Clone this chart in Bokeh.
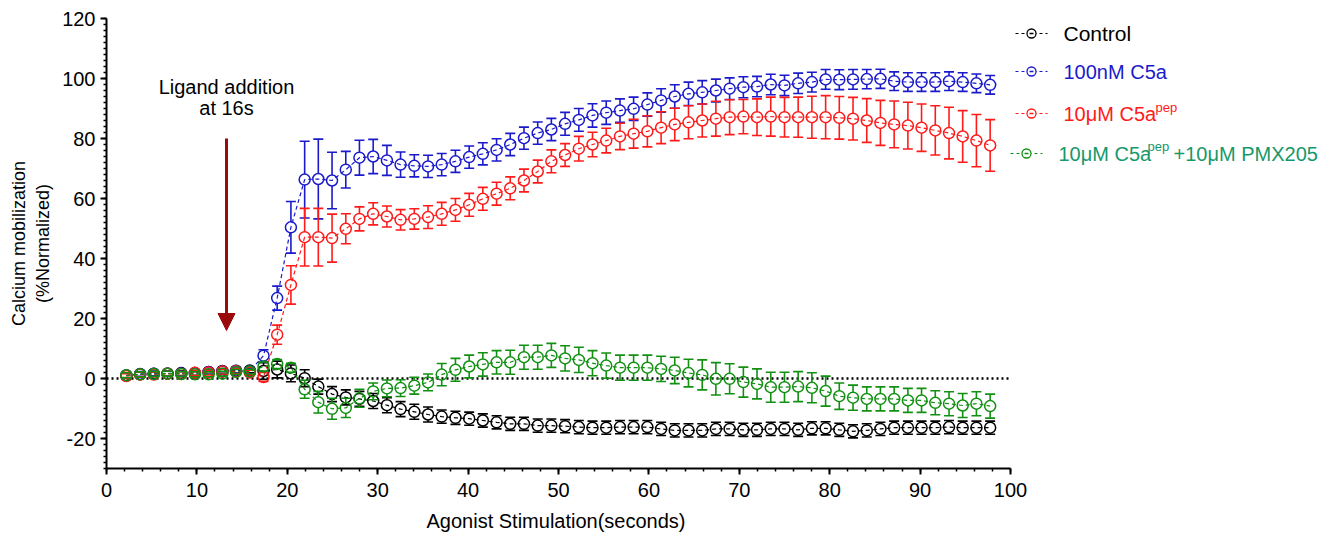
from bokeh.plotting import figure
from bokeh.models import Range1d, FixedTicker, Arrow, NormalHead, Title, PrintfTickFormatter
from bokeh.core.properties import value
from bokeh.embed import file_html
from bokeh.resources import INLINE

# ---------------- data ----------------
time_s = [2.20, 3.72, 5.23, 6.75, 8.27, 9.78, 11.30, 12.82, 14.33, 15.85,
          17.37, 18.88, 20.40, 21.92, 23.43, 24.95, 26.47, 27.98, 29.50, 31.02,
          32.53, 34.05, 35.57, 37.08, 38.60, 40.12, 41.63, 43.15, 44.66, 46.18,
          47.70, 49.21, 50.73, 52.25, 53.76, 55.28, 56.80, 58.31, 59.83, 61.35,
          62.86, 64.38, 65.90, 67.41, 68.93, 70.45, 71.96, 73.48, 75.00, 76.51,
          78.03, 79.55, 81.06, 82.58, 84.10, 85.61, 87.13, 88.65, 90.16, 91.68,
          93.20, 94.71, 96.23, 97.75]

control = [1.0, 1.4, 1.6, 1.6, 1.8, 1.8, 2.2, 2.5, 2.6, 2.7,
           2.5, 3.0, 1.7, 0.1, -2.7, -5.2, -6.3, -6.8, -7.5, -8.9,
           -10.2, -11.1, -12.0, -12.7, -13.1, -13.4, -14.0, -14.6, -15.1, -15.1,
           -15.7, -15.7, -15.9, -16.2, -16.4, -16.4, -16.2, -16.2, -16.2, -16.8,
           -17.3, -17.3, -17.3, -16.8, -16.8, -17.1, -17.1, -16.8, -16.8, -17.1,
           -16.6, -16.6, -17.1, -17.6, -17.3, -16.8, -16.4, -16.4, -16.4, -16.4,
           -16.2, -16.4, -16.4, -16.4]
control_err = [0.8, 0.8, 0.8, 0.8, 0.8, 0.8, 0.8, 0.8, 0.8, 0.8,
               2.8, 2.8, 2.8, 2.8, 2.5, 2.5, 2.5, 2.5, 2.5, 2.5,
               2.5, 2.5, 2.5, 2.2, 2.2, 2.2, 2.2, 2.2, 2.2, 2.2,
               2.2, 2.2, 2.2, 2.2, 2.2, 2.2, 2.2, 2.2, 2.2, 2.2,
               2.2, 2.2, 2.2, 2.2, 2.2, 2.2, 2.2, 2.2, 2.2, 2.2,
               2.2, 2.2, 2.2, 2.2, 2.2, 2.2, 2.2, 2.2, 2.2, 2.2,
               2.2, 2.2, 2.2, 2.2]

c5a = [1.0, 1.5, 1.6, 1.7, 1.7, 1.8, 2.2, 2.3, 2.5, 2.4,
       7.6, 26.8, 50.4, 66.3, 66.5, 66.0, 69.6, 73.6, 74.0, 72.7,
       71.3, 70.9, 70.7, 71.3, 72.4, 73.8, 74.9, 76.2, 78.0, 80.1,
       81.8, 83.0, 84.9, 86.2, 87.7, 88.6, 89.3, 89.9, 91.3, 92.7,
       94.0, 94.9, 95.4, 96.0, 96.6, 97.1, 97.3, 98.0, 97.7, 98.4,
       98.8, 99.7, 99.6, 99.7, 99.8, 99.9, 99.1, 98.8, 98.8, 98.8,
       99.1, 98.8, 98.4, 97.9]
c5a_err = [0.8, 0.8, 0.8, 0.8, 0.8, 0.8, 0.8, 0.8, 0.8, 0.8,
           2.0, 4.0, 8.6, 12.8, 13.3, 9.4, 6.1, 5.8, 5.7, 5.0,
           4.2, 3.7, 3.7, 3.7, 3.7, 3.7, 3.7, 3.7, 3.7, 3.7,
           3.7, 3.7, 3.8, 3.8, 3.9, 3.9, 3.9, 3.9, 3.9, 3.9,
           3.9, 3.9, 3.9, 3.8, 3.6, 3.5, 3.4, 3.4, 3.4, 3.4,
           3.3, 3.3, 3.3, 3.3, 3.2, 3.2, 3.1, 3.1, 3.1, 3.1,
           3.1, 3.1, 3.1, 3.1]

c5apep = [0.8, 1.3, 1.3, 1.6, 1.5, 1.9, 2.0, 2.3, 2.4, 2.0,
          0.5, 14.6, 31.2, 47.1, 47.1, 46.8, 49.9, 53.2, 54.9, 54.0,
          52.9, 53.2, 53.8, 54.9, 56.2, 57.9, 59.9, 61.6, 63.4, 66.0,
          69.0, 72.4, 74.5, 76.6, 78.0, 79.3, 80.7, 81.6, 82.4, 83.6,
          84.7, 85.4, 86.0, 86.6, 87.1, 87.3, 87.1, 87.3, 87.1, 87.1,
          87.1, 87.1, 86.9, 86.6, 86.0, 85.2, 84.7, 84.3, 83.6, 82.7,
          81.8, 80.7, 79.3, 77.7]
c5apep_err = [0.8, 0.8, 0.8, 0.8, 0.8, 0.8, 0.8, 0.8, 0.8, 0.8,
              1.5, 3.2, 6.4, 9.6, 9.6, 8.0, 5.0, 4.0, 3.7, 3.5,
              3.4, 3.4, 3.8, 3.8, 3.8, 3.8, 3.8, 3.8, 3.8, 3.8,
              3.8, 3.8, 3.8, 4.1, 4.1, 4.1, 4.4, 4.8, 5.2, 5.3,
              5.4, 5.5, 5.5, 5.8, 5.8, 5.7, 6.1, 6.5, 6.6, 6.7,
              7.0, 7.2, 7.1, 7.1, 7.3, 7.5, 7.8, 7.8, 7.9, 8.2,
              8.6, 8.6, 8.7, 8.6]

c5apep_pmx = [1.1, 1.4, 1.5, 1.6, 1.5, 1.4, 1.4, 1.6, 2.2, 2.3,
              4.0, 4.8, 3.6, -3.6, -7.9, -10.1, -9.8, -6.6, -4.3, -3.3,
              -3.2, -2.4, -1.3, 1.3, 2.9, 4.0, 4.7, 5.4, 5.4, 7.1,
              7.1, 7.7, 6.7, 6.2, 5.1, 4.3, 3.6, 3.6, 3.6, 3.2,
              2.7, 1.8, 1.2, -0.1, -0.1, -1.2, -1.8, -2.9, -2.9, -2.7,
              -3.1, -4.2, -5.9, -6.4, -6.8, -6.8, -6.8, -7.3, -7.3, -8.1,
              -8.4, -9.0, -8.4, -9.2]
c5apep_pmx_err = [0.8, 0.8, 0.8, 0.8, 0.8, 0.8, 0.8, 0.8, 0.8, 0.8,
                  1.5, 1.5, 1.5, 3.0, 3.6, 3.5, 3.2, 3.0, 2.8, 2.8,
                  2.8, 2.8, 2.8, 3.7, 3.8, 3.8, 3.9, 3.9, 4.0, 4.0,
                  4.0, 4.0, 4.2, 4.2, 4.2, 4.2, 4.2, 4.2, 4.2, 4.2,
                  4.4, 4.6, 5.0, 5.4, 5.0, 5.0, 5.0, 5.0, 5.0, 5.0,
                  5.0, 5.0, 4.4, 4.2, 4.0, 4.0, 4.0, 4.0, 4.0, 4.0,
                  4.0, 4.0, 4.0, 4.0]

x_ticks = [0, 10, 20, 30, 40, 50, 60, 70, 80, 90, 100]
y_ticks = [-20, 0, 20, 40, 60, 80, 100, 120]

series_names = ["Control", "100nM C5a", "10\u03bcM C5a", "10\u03bcM C5a"]
series_values = [control, c5a, c5apep, c5apep_pmx]
series_errors = [control_err, c5a_err, c5apep_err, c5apep_pmx_err]

# ---------------- styles ----------------
FONT = "Liberation Sans"
marker_colors = ["#000000", "#1a1acc", "#ff1a1a", "#119011"]
text_colors = ["#000000", "#1a1acc", "#ff1a1a", "#17986a"]
W, H = 1333, 540
LEFT, TOP, BOTTOM = 106, 18, 72
PX_PER_X = 9.04          # pixels per second
PX_PER_Y = 3.0           # pixels per percent
X_END = (W - LEFT) / PX_PER_X

p = figure(width=W, height=H, x_range=Range1d(0, X_END), y_range=Range1d(-30, 120),
           output_backend="svg", toolbar_location=None,
           min_border_left=LEFT, min_border_right=0, min_border_top=TOP,
           min_border_bottom=BOTTOM)
p.xgrid.visible = False
p.ygrid.visible = False
p.outline_line_color = None

for ax in (p.xaxis[0], p.yaxis[0]):
    ax.axis_line_width = 2
    ax.major_tick_line_width = 2
    ax.minor_tick_line_width = 1.5
    ax.major_tick_in = 0
    ax.major_tick_out = 6
    ax.minor_tick_in = 0
    ax.minor_tick_out = 3
    ax.major_label_text_font = FONT
    ax.major_label_text_font_size = "20px"
    ax.major_label_text_color = "#000000"
    ax.axis_label_text_font = FONT
    ax.axis_label_text_font_size = "18px"
    ax.axis_label_text_font_style = "normal"
    ax.axis_label_text_color = "#000000"

xa = p.xaxis[0]
xa.bounds = (0, 100)
xa.ticker = FixedTicker(ticks=x_ticks, minor_ticks=list(range(0, 101, 2)))
xa.major_label_standoff = 8

ya = p.yaxis[0]
ya.ticker = FixedTicker(ticks=y_ticks, minor_ticks=list(range(-30, 121, 2)))
ya.formatter = PrintfTickFormatter(format="%d")
ya.axis_label = "Calcium mobilization\n(%Normalized)"
ya.major_label_standoff = 5
ya.axis_label_standoff = 6

# x-axis title centred under the 0-100 axis (the frame reaches the right edge)
p.add_layout(Title(text="Agonist Stimulation(seconds)", align="left", offset=320,
                   text_font=FONT, text_font_size="20px", text_font_style="normal",
                   text_color="#000000", standoff=17), "below")

# zero reference line
p.line([0, 100], [0, 0], line_color="#000000", line_width=2.5, line_dash="2 3")

# ---------------- series ----------------
MARKER = 11
r_units = (MARKER / 2) / PX_PER_Y
for vals, errs, col in zip(series_values, series_errors, marker_colors):
    up_top = [v + e for v, e in zip(vals, errs)]
    lo_bot = [v - e for v, e in zip(vals, errs)]
    up_start = [v + min(e, r_units) for v, e in zip(vals, errs)]
    lo_start = [v - min(e, r_units) for v, e in zip(vals, errs)]
    p.segment(x0=time_s, y0=up_start, x1=time_s, y1=up_top, line_color=col, line_width=1.6)
    p.segment(x0=time_s, y0=lo_start, x1=time_s, y1=lo_bot, line_color=col, line_width=1.6)
    p.scatter(time_s, up_top, marker="dash", size=10, line_color=col, line_width=1.6)
    p.scatter(time_s, lo_bot, marker="dash", size=10, line_color=col, line_width=1.6)
    p.line(time_s, vals, line_color=col, line_width=1.2, line_dash="4 3")
    p.scatter(time_s, vals, marker="circle", size=MARKER, fill_color=None,
              line_color=col, line_width=1.5)

# ---------------- annotation ----------------
def dx(px):
    return (px - LEFT) / PX_PER_X

def dy(py):
    return (378 - py) / PX_PER_Y

p.add_layout(Arrow(x_start=dx(226), y_start=dy(138), x_end=dx(226), y_end=dy(330),
                   line_color="#9b0a0a", line_width=3,
                   end=NormalHead(size=17, fill_color="#9b0a0a", line_color="#9b0a0a")))
p.text(x=[dx(226), dx(226)], y=[dy(86), dy(107)], text=["Ligand addition", "at 16s"],
       text_font=value(FONT), text_font_size="20px", text_align="center",
       text_baseline="middle", text_color="#000000")

# ---------------- legend (drawn) ----------------
leg_y = [33, 71, 113, 153]
leg_sample_x = [1031, 1031, 1031, 1026]
leg_text_x = [1063, 1063, 1063, 1058]
for i in range(4):
    col = marker_colors[i]
    cx = leg_sample_x[i]
    yy = dy(leg_y[i])
    p.line([dx(cx - 16), dx(cx + 16)], [yy, yy], line_color=col, line_width=1.2, line_dash="3 3")
    p.scatter([dx(cx)], [yy], marker="circle", size=9, fill_color="white",
              line_color=col, line_width=1.3)
    p.scatter([dx(cx)], [yy], marker="dash", size=4, line_color=col, line_width=1.3)
    p.text(x=[dx(leg_text_x[i])], y=[yy], text=[series_names[i]], text_font=value(FONT),
           text_font_size="21px" if i == 0 else "20px", text_align="left",
           text_baseline="middle", text_color=text_colors[i])

# superscripts and the rest of the 4th label
p.text(x=[dx(1155), dx(1147)], y=[dy(107), dy(146)], text=["pep", "pep"],
       text_font=value(FONT), text_font_size="13px", text_align="left",
       text_baseline="middle", text_color=[text_colors[2], text_colors[3]])
p.text(x=[dx(1173)], y=[dy(153)], text=["+10\u03bcM PMX205"], text_font=value(FONT),
       text_font_size="20px", text_align="left", text_baseline="middle",
       text_color=text_colors[3])

open("out.html", "w").write(file_html(p, INLINE))
